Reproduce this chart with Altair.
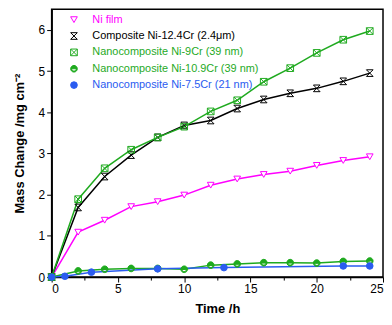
import altair as alt
import pandas as pd

t_main = [0, 2, 4, 6, 8, 10, 12, 14, 16, 18, 20, 22, 24]
t_75 = [0, 1, 3, 8, 13, 22, 24]

ni_film = [0, 1.09, 1.38, 1.71, 1.83, 1.99, 2.23, 2.38, 2.49, 2.57, 2.71, 2.83, 2.92]
composite = [0, 1.69, 2.44, 2.96, 3.39, 3.68, 3.80, 4.09, 4.31, 4.46, 4.58, 4.75, 4.95]
ni9 = [0, 1.89, 2.64, 3.09, 3.39, 3.65, 4.02, 4.29, 4.74, 5.07, 5.44, 5.76, 5.97]
ni109 = [0, 0.15, 0.19, 0.21, 0.21, 0.19, 0.29, 0.32, 0.35, 0.35, 0.34, 0.38, 0.39]
ni75 = [0, 0.02, 0.12, 0.20, 0.23, 0.27, 0.27]

names = [
    "Ni film",
    "Composite Ni-12.4Cr (2.4\u03bcm)",
    "Nanocomposite Ni-9Cr (39 nm)",
    "Nanocomposite Ni-10.9Cr (39 nm)",
    "Nanocomposite Ni-7.5Cr (21 nm)",
]
MAG, BLK, GRN, BLU = "#ff00ff", "#000000", "#1faa1f", "#2a5cf0"
strokes = [MAG, BLK, GRN, GRN, BLU]
fills = ["#ffffff", "transparent", "transparent", GRN, BLU]
shapes = [
    "triangle-down",
    "M-1,-1H1L-1,1H1Z",
    "M-1,-1H1V1H-1Z M-1,-1L1,1 M1,-1L-1,1",
    "M-1,0A1,1 0 1,1 1,0A1,1 0 1,1 -1,0Z M-0.7,0A0.7,0.7 0 1,0 0.7,0A0.7,0.7 0 1,0 -0.7,0Z M-0.7,0A0.7,0.7 0 0,1 0.7,0Z",
    "circle",
]

series = [(names[0], t_main, ni_film), (names[1], t_main, composite),
          (names[2], t_main, ni9), (names[3], t_main, ni109), (names[4], t_75, ni75)]
rows = []
for n, ts, vs in series:
    for t, v in zip(ts, vs):
        rows.append({"series": n, "t": t, "v": v})
df = pd.DataFrame(rows)

x = alt.X("t:Q", title="Time /h",
          scale=alt.Scale(domain=[0, 25], nice=False),
          axis=alt.Axis(values=[i * 2.5 for i in range(11)], format="d",
                        labelExpr="datum.value % 5 === 0 ? datum.label : ''",
                        tickSize={"condition": {"test": "datum.value % 5 === 0", "value": 5}, "value": 3},
                        labelOverlap=False, grid=False))
y = alt.Y("v:Q", title="Mass Change /mg cm\u207b\u00b2",
          scale=alt.Scale(domain=[0, 6.5], nice=False),
          axis=alt.Axis(values=[i * 0.5 for i in range(14)], format="d",
                        labelExpr="datum.value % 1 === 0 ? datum.label : ''",
                        tickSize={"condition": {"test": "datum.value % 1 === 0", "value": 5}, "value": 3},
                        labelOverlap=False, grid=False, titlePadding=12))

label_color = ("indexof(datum.label,'Ni film')>=0 ? '%s' : indexof(datum.label,'Composite')===0 ? '%s' : "
               "indexof(datum.label,'7.5Cr')>=0 ? '%s' : '%s'") % (MAG, BLK, BLU, GRN)

legend = alt.Legend(title=None, orient="none", legendX=17, legendY=5,
                    labelColor={"expr": label_color}, labelLimit=400)
stroke_scale = alt.Scale(domain=names, range=strokes)
lines = alt.Chart(df).mark_line(strokeWidth=1.5).encode(
    x=x, y=y,
    stroke=alt.Stroke("series:N", scale=stroke_scale, sort=names, legend=legend),
)
points = alt.Chart(df).mark_point(size=45, strokeWidth=1, opacity=1, filled=False).encode(
    x=x, y=y,
    stroke=alt.Stroke("series:N", scale=stroke_scale, sort=names, legend=legend),
    fill=alt.Fill("series:N", scale=alt.Scale(domain=names, range=fills), sort=names, legend=legend),
    shape=alt.Shape("series:N", scale=alt.Scale(domain=names, range=shapes), sort=names, legend=legend),
)

chart = alt.layer(lines, points).properties(
    width=334, height=270,
    padding={"left": 5, "top": 0, "right": 0, "bottom": 0},
).configure_view(stroke="black", strokeWidth=1.5).configure_axis(
    domainColor="black", domainWidth=1.5, tickColor="black", tickWidth=1,
    labelFont="Liberation Sans", labelFontSize=12, labelColor="black",
    titleFont="Liberation Sans", titleFontSize=13, titleFontWeight="bold", titleColor="black",
    labelPadding=2,
).configure_legend(
    labelFont="Liberation Sans", labelFontSize=11, symbolSize=45, symbolStrokeWidth=1,
    rowPadding=4.5, labelOffset=13, padding=0, symbolOffset=0,
).configure_axisX(titlePadding=8)

chart.save("out.html", embed_options={"renderer": "svg", "actions": False})
